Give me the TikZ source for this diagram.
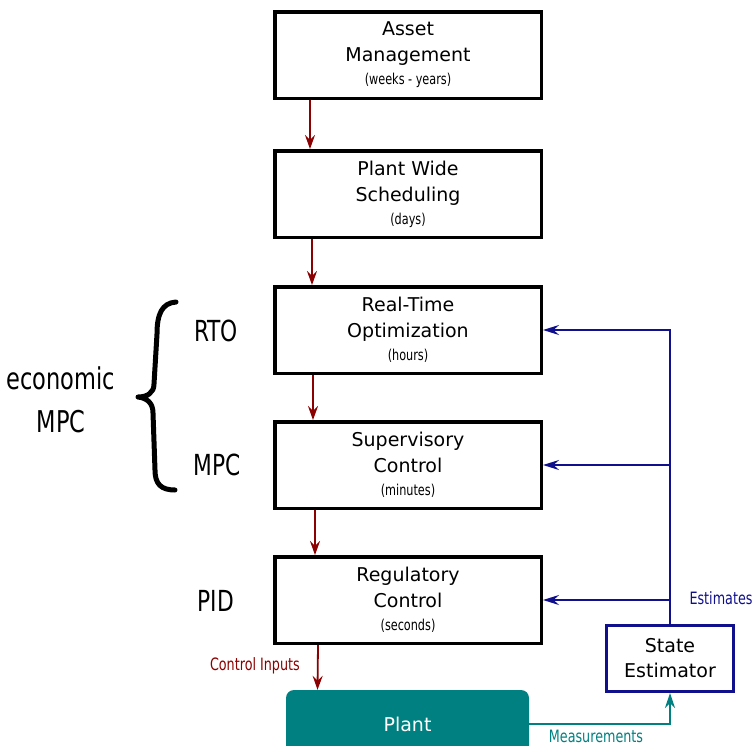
\documentclass[tikz,border=0pt]{standalone}
\usepackage{fontspec}
\setmainfont{DejaVu Sans}
\newfontfamily\condfont{DejaVu Sans}[FakeStretch=0.75]
\usetikzlibrary{arrows.meta}

\definecolor{ctrlred}{RGB}{139,0,0}
\definecolor{estblue}{RGB}{16,16,140}
\definecolor{plantteal}{RGB}{0,128,128}

\tikzset{
  level/.style={draw=black, line width=3.5pt, fill=white,
    minimum width=266.5pt, minimum height=86.5pt, inner sep=0pt,
    align=center, font=\fontsize{19}{26}\selectfont},
  layerlbl/.style={font=\condfont\fontsize{29}{34}\selectfont, inner sep=0pt},
  downarr/.style={draw=ctrlred, line width=1.8pt,
    -{Stealth[length=14pt,width=10pt,inset=5pt]}},
  estarr/.style={draw=estblue, line width=1.8pt,
    -{Stealth[length=16pt,width=10pt,inset=5.5pt]}},
  measarr/.style={draw=plantteal, line width=1.8pt,
    -{Stealth[length=15pt,width=10pt,inset=5pt]}},
  sidelbl/.style={font=\condfont\fontsize{17}{20}\selectfont, inner sep=0pt},
}
\newcommand{\tsc}[1]{{\condfont\fontsize{15}{18}\selectfont #1}}

\begin{document}
\begin{tikzpicture}[x=1pt, y=-1pt]
  \useasboundingbox (0,0) rectangle (755,745);

  % hierarchy of decision layers
  \node[level] (am)  at (408,55)  {Asset\\Management\\[-3pt]\tsc{(weeks - years)}};
  \node[level] (pws) at (408,194) {Plant Wide\\Scheduling\\[-3pt]\tsc{(days)}};
  \node[level] (rto) at (408,330) {Real-Time\\Optimization\\[-3pt]\tsc{(hours)}};
  \node[level] (sup) at (408,465) {Supervisory\\Control\\[-3pt]\tsc{(minutes)}};
  \node[level] (reg) at (408,600) {Regulatory\\Control\\[-3pt]\tsc{(seconds)}};

  % plant and estimator
  \node[fill=plantteal, rounded corners=8pt, minimum width=243pt, minimum height=68pt,
        text=white, font=\fontsize{19}{24}\selectfont] (plant) at (407.5,724) {Plant};
  \node[draw=estblue, line width=3pt, minimum width=127pt, minimum height=66pt,
        align=center, inner sep=0pt, font=\fontsize{19}{25}\selectfont]
        (est) at (670,658.5) {State\\Estimator};

  % top-down flow of set-points
  \draw[downarr] ([xshift=-98pt]am.south)  -- ([xshift=-98pt]pws.north);
  \draw[downarr] ([xshift=-96pt]pws.south) -- ([xshift=-96pt]rto.north);
  \draw[downarr] ([xshift=-95pt]rto.south) -- ([xshift=-95pt]sup.north);
  \draw[downarr] ([xshift=-93pt]sup.south) -- ([xshift=-93pt]reg.north);
  \draw[downarr] ([xshift=-90pt]reg.south) -- ([xshift=-90pt]plant.north);

  % state estimates fed back to each layer
  \draw[estarr] (est.north) |- (rto.east);
  \draw[estarr] (est.north |- sup.east) -- (sup.east);
  \draw[estarr] (est.north |- reg.east) -- (reg.east);

  % measurements from the plant
  \draw[measarr] (plant.east) -| (est.south);

  % side labels
  \node[sidelbl, text=ctrlred, anchor=east] (ci) at (300,666) {Control Inputs};
  \node[sidelbl, text=estblue] (estlbl) at (721,598) {Estimates};
  \node[sidelbl, text=plantteal] (meas) at (596,736) {Measurements};

  \node[layerlbl] (lrto) at (216,331) {RTO};
  \node[layerlbl] (lmpc) at (217,465) {MPC};
  \node[layerlbl] (lpid) at (216,601) {PID};
  \node[font=\condfont\fontsize{30}{43}\selectfont, align=center, inner sep=0pt]
        (empc) at (61,400) {economic\\MPC};

  % brace grouping RTO and MPC
  \draw[line width=5pt, line cap=round, line join=round]
    (176,302) .. controls (162,303) and (157,314) .. (157,334)
    -- (154,384) .. controls (154,393) and (147,397) .. (138,397)
    .. controls (147,398) and (153,403) .. (153,413)
    -- (155,470) .. controls (155,484) and (161,490) .. (175,490);
\end{tikzpicture}
\end{document}
